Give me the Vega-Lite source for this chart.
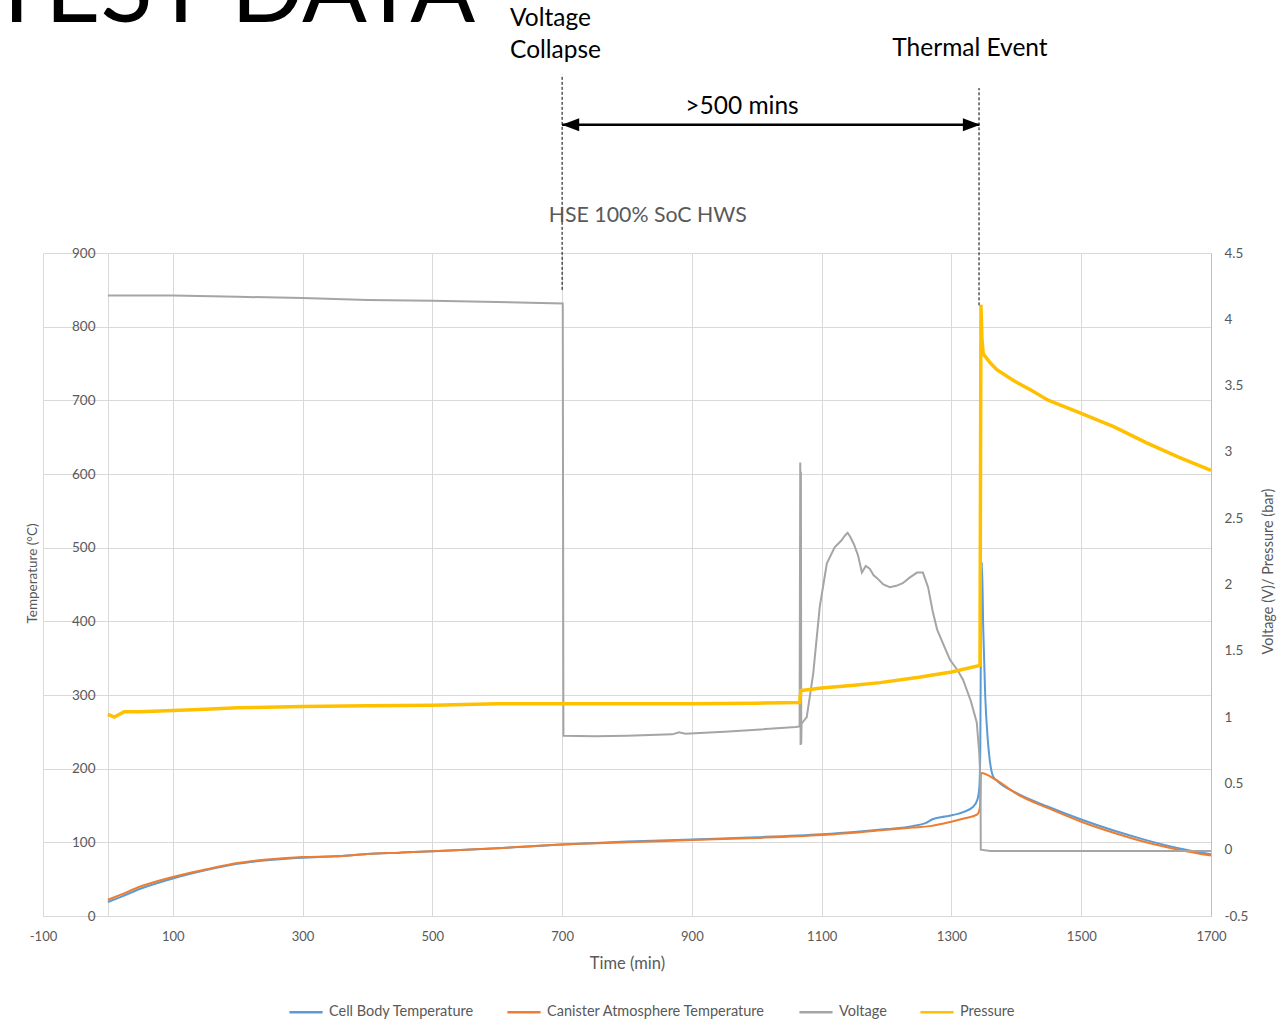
{
  "$schema": "https://vega.github.io/schema/vega-lite/v6.json",
  "width": 1168,
  "height": 663,
  "autosize": "none",
  "padding": {"left": 43, "top": 253, "right": 77, "bottom": 104},
  "background": "white",
  "config": {
    "font": "Lato",
    "view": {"stroke": null},
    "legend": {
      "orient": "none", "legendX": 245, "legendY": 741, "direction": "horizontal",
      "symbolType": "stroke", "symbolSize": 1100, "symbolStrokeWidth": 2.5,
      "labelFontSize": 14.5, "labelColor": "#595959", "labelFont": "Lato", "labelLimit": 0,
      "columnPadding": 28, "labelOffset": 5
    }
  },
  "datasets": {
    "temp": [
      {"t":0,"v":19,"s":"Cell Body Temperature"},{"t":20,"v":26,"s":"Cell Body Temperature"},{"t":50,"v":37,"s":"Cell Body Temperature"},{"t":100,"v":51,"s":"Cell Body Temperature"},{"t":150,"v":62,"s":"Cell Body Temperature"},{"t":200,"v":71,"s":"Cell Body Temperature"},{"t":250,"v":76,"s":"Cell Body Temperature"},{"t":300,"v":79,"s":"Cell Body Temperature"},{"t":350,"v":81,"s":"Cell Body Temperature"},{"t":400,"v":84,"s":"Cell Body Temperature"},{"t":450,"v":86,"s":"Cell Body Temperature"},{"t":500,"v":88,"s":"Cell Body Temperature"},{"t":600,"v":92,"s":"Cell Body Temperature"},{"t":700,"v":97,"s":"Cell Body Temperature"},{"t":800,"v":101,"s":"Cell Body Temperature"},{"t":900,"v":104,"s":"Cell Body Temperature"},{"t":1000,"v":107,"s":"Cell Body Temperature"},{"t":1100,"v":111,"s":"Cell Body Temperature"},{"t":1150,"v":114,"s":"Cell Body Temperature"},{"t":1200,"v":118,"s":"Cell Body Temperature"},{"t":1240,"v":122,"s":"Cell Body Temperature"},{"t":1260,"v":126,"s":"Cell Body Temperature"},{"t":1270,"v":131,"s":"Cell Body Temperature"},{"t":1290,"v":135,"s":"Cell Body Temperature"},{"t":1318,"v":141,"s":"Cell Body Temperature"},{"t":1333,"v":148,"s":"Cell Body Temperature"},{"t":1340,"v":158,"s":"Cell Body Temperature"},{"t":1343,"v":175,"s":"Cell Body Temperature"},{"t":1344.5,"v":230,"s":"Cell Body Temperature"},{"t":1345.5,"v":400,"s":"Cell Body Temperature"},{"t":1347,"v":480,"s":"Cell Body Temperature"},{"t":1349,"v":390,"s":"Cell Body Temperature"},{"t":1352,"v":300,"s":"Cell Body Temperature"},{"t":1356,"v":239,"s":"Cell Body Temperature"},{"t":1359,"v":212,"s":"Cell Body Temperature"},{"t":1364,"v":190,"s":"Cell Body Temperature"},{"t":1370,"v":184,"s":"Cell Body Temperature"},{"t":1400,"v":167,"s":"Cell Body Temperature"},{"t":1450,"v":148,"s":"Cell Body Temperature"},{"t":1500,"v":131,"s":"Cell Body Temperature"},{"t":1550,"v":116,"s":"Cell Body Temperature"},{"t":1600,"v":103,"s":"Cell Body Temperature"},{"t":1650,"v":92,"s":"Cell Body Temperature"},{"t":1700,"v":84,"s":"Cell Body Temperature"},
      {"t":0,"v":22,"s":"Canister Atmosphere Temperature"},{"t":20,"v":29,"s":"Canister Atmosphere Temperature"},{"t":50,"v":40,"s":"Canister Atmosphere Temperature"},{"t":100,"v":53,"s":"Canister Atmosphere Temperature"},{"t":150,"v":63,"s":"Canister Atmosphere Temperature"},{"t":200,"v":72,"s":"Canister Atmosphere Temperature"},{"t":250,"v":77,"s":"Canister Atmosphere Temperature"},{"t":300,"v":80,"s":"Canister Atmosphere Temperature"},{"t":350,"v":81,"s":"Canister Atmosphere Temperature"},{"t":400,"v":84,"s":"Canister Atmosphere Temperature"},{"t":450,"v":86,"s":"Canister Atmosphere Temperature"},{"t":500,"v":88,"s":"Canister Atmosphere Temperature"},{"t":600,"v":92,"s":"Canister Atmosphere Temperature"},{"t":700,"v":97,"s":"Canister Atmosphere Temperature"},{"t":800,"v":100,"s":"Canister Atmosphere Temperature"},{"t":900,"v":103,"s":"Canister Atmosphere Temperature"},{"t":1000,"v":106,"s":"Canister Atmosphere Temperature"},{"t":1100,"v":110,"s":"Canister Atmosphere Temperature"},{"t":1150,"v":113,"s":"Canister Atmosphere Temperature"},{"t":1200,"v":117,"s":"Canister Atmosphere Temperature"},{"t":1240,"v":120,"s":"Canister Atmosphere Temperature"},{"t":1267,"v":122,"s":"Canister Atmosphere Temperature"},{"t":1300,"v":128,"s":"Canister Atmosphere Temperature"},{"t":1318,"v":132,"s":"Canister Atmosphere Temperature"},{"t":1340,"v":138,"s":"Canister Atmosphere Temperature"},{"t":1344,"v":148,"s":"Canister Atmosphere Temperature"},{"t":1345.5,"v":194,"s":"Canister Atmosphere Temperature"},{"t":1370,"v":184,"s":"Canister Atmosphere Temperature"},{"t":1400,"v":166,"s":"Canister Atmosphere Temperature"},{"t":1450,"v":146,"s":"Canister Atmosphere Temperature"},{"t":1500,"v":128,"s":"Canister Atmosphere Temperature"},{"t":1550,"v":113,"s":"Canister Atmosphere Temperature"},{"t":1600,"v":100,"s":"Canister Atmosphere Temperature"},{"t":1650,"v":90,"s":"Canister Atmosphere Temperature"},{"t":1700,"v":82,"s":"Canister Atmosphere Temperature"}
    ],
    "volt": [
      {"t":0,"v":4.18,"s":"Voltage"},{"t":100,"v":4.18,"s":"Voltage"},{"t":200,"v":4.17,"s":"Voltage"},{"t":300,"v":4.16,"s":"Voltage"},{"t":400,"v":4.145,"s":"Voltage"},{"t":500,"v":4.14,"s":"Voltage"},{"t":600,"v":4.13,"s":"Voltage"},{"t":701,"v":4.12,"s":"Voltage"},{"t":702,"v":0.86,"s":"Voltage"},{"t":750,"v":0.855,"s":"Voltage"},{"t":800,"v":0.86,"s":"Voltage"},{"t":870,"v":0.87,"s":"Voltage"},{"t":880,"v":0.885,"s":"Voltage"},{"t":890,"v":0.875,"s":"Voltage"},{"t":950,"v":0.89,"s":"Voltage"},{"t":1000,"v":0.905,"s":"Voltage"},{"t":1060,"v":0.925,"s":"Voltage"},{"t":1066,"v":0.93,"s":"Voltage"},{"t":1067,"v":2.92,"s":"Voltage"},{"t":1067.5,"v":0.79,"s":"Voltage"},{"t":1068,"v":2.85,"s":"Voltage"},{"t":1068.5,"v":0.8,"s":"Voltage"},{"t":1069,"v":0.95,"s":"Voltage"},{"t":1077,"v":1.0,"s":"Voltage"},{"t":1087,"v":1.33,"s":"Voltage"},{"t":1097,"v":1.83,"s":"Voltage"},{"t":1108,"v":2.16,"s":"Voltage"},{"t":1120,"v":2.28,"s":"Voltage"},{"t":1130,"v":2.33,"s":"Voltage"},{"t":1136,"v":2.37,"s":"Voltage"},{"t":1140,"v":2.39,"s":"Voltage"},{"t":1144,"v":2.36,"s":"Voltage"},{"t":1150,"v":2.3,"s":"Voltage"},{"t":1156,"v":2.22,"s":"Voltage"},{"t":1162,"v":2.09,"s":"Voltage"},{"t":1168,"v":2.14,"s":"Voltage"},{"t":1174,"v":2.12,"s":"Voltage"},{"t":1180,"v":2.07,"s":"Voltage"},{"t":1185,"v":2.05,"s":"Voltage"},{"t":1195,"v":2.0,"s":"Voltage"},{"t":1205,"v":1.98,"s":"Voltage"},{"t":1215,"v":1.99,"s":"Voltage"},{"t":1225,"v":2.01,"s":"Voltage"},{"t":1235,"v":2.05,"s":"Voltage"},{"t":1247,"v":2.09,"s":"Voltage"},{"t":1256,"v":2.09,"s":"Voltage"},{"t":1264,"v":1.98,"s":"Voltage"},{"t":1271,"v":1.8,"s":"Voltage"},{"t":1278,"v":1.66,"s":"Voltage"},{"t":1290,"v":1.52,"s":"Voltage"},{"t":1298,"v":1.43,"s":"Voltage"},{"t":1310,"v":1.35,"s":"Voltage"},{"t":1318,"v":1.28,"s":"Voltage"},{"t":1330,"v":1.12,"s":"Voltage"},{"t":1339,"v":0.96,"s":"Voltage"},{"t":1343,"v":0.72,"s":"Voltage"},{"t":1344.8,"v":0.5,"s":"Voltage"},{"t":1345.2,"v":0.0,"s":"Voltage"},{"t":1360,"v":-0.01,"s":"Voltage"},{"t":1700,"v":-0.01,"s":"Voltage"}
    ],
    "pres": [
      {"t":0,"v":1.02,"s":"Pressure"},{"t":10,"v":1.0,"s":"Pressure"},{"t":25,"v":1.04,"s":"Pressure"},{"t":50,"v":1.04,"s":"Pressure"},{"t":100,"v":1.05,"s":"Pressure"},{"t":150,"v":1.06,"s":"Pressure"},{"t":200,"v":1.07,"s":"Pressure"},{"t":300,"v":1.08,"s":"Pressure"},{"t":400,"v":1.085,"s":"Pressure"},{"t":500,"v":1.09,"s":"Pressure"},{"t":600,"v":1.1,"s":"Pressure"},{"t":700,"v":1.1,"s":"Pressure"},{"t":800,"v":1.1,"s":"Pressure"},{"t":900,"v":1.1,"s":"Pressure"},{"t":1000,"v":1.105,"s":"Pressure"},{"t":1066,"v":1.11,"s":"Pressure"},{"t":1068,"v":1.2,"s":"Pressure"},{"t":1100,"v":1.22,"s":"Pressure"},{"t":1150,"v":1.24,"s":"Pressure"},{"t":1190,"v":1.26,"s":"Pressure"},{"t":1250,"v":1.3,"s":"Pressure"},{"t":1300,"v":1.34,"s":"Pressure"},{"t":1344,"v":1.39,"s":"Pressure"},{"t":1345.5,"v":4.11,"s":"Pressure"},{"t":1347,"v":3.85,"s":"Pressure"},{"t":1349,"v":3.74,"s":"Pressure"},{"t":1360,"v":3.67,"s":"Pressure"},{"t":1370,"v":3.62,"s":"Pressure"},{"t":1395,"v":3.54,"s":"Pressure"},{"t":1421,"v":3.47,"s":"Pressure"},{"t":1449,"v":3.39,"s":"Pressure"},{"t":1500,"v":3.29,"s":"Pressure"},{"t":1550,"v":3.19,"s":"Pressure"},{"t":1600,"v":3.07,"s":"Pressure"},{"t":1650,"v":2.96,"s":"Pressure"},{"t":1700,"v":2.86,"s":"Pressure"}
    ],
    "vlines": [
      {"t":700,"y1":850,"y2":1142},
      {"t":1342.5,"y1":829,"y2":1124}
    ],
    "arrow": [{"t1":700,"t2":1343,"y":1074}],
    "headL": [{"t":713,"y":1074}],
    "headR": [{"t":1331,"y":1074}],
    "labelsL": [
      {"label":"Voltage","t":619.7,"y":1217.6},
      {"label":"Collapse","t":619.7,"y":1174.2}
    ],
    "labelsC": [
      {"label":"Thermal Event","t":1328.6,"y":1176.9},
      {"label":">500 mins","t":977.2,"y":1098.2}
    ],
    "chartTitle": [{"label":"HSE 100% SoC HWS","t":832,"y":950}],
    "big": [{"label":"TEST DATA","t":191,"y":1213.6}]
  },
  "layer": [
    {
      "data": {"name": "temp"},
      "mark": {"type": "line", "strokeWidth": 2, "interpolate": "monotone"},
      "encoding": {
        "x": {
          "field": "t", "type": "quantitative",
          "scale": {"domain": [-100, 1700], "nice": false, "zero": false},
          "axis": {
            "values": [-100, 100, 300, 500, 700, 900, 1100, 1300, 1500, 1700],
            "labelExpr": "toString(datum.value)", "labelFlush": false,
            "grid": true, "gridColor": "#D9D9D9", "domainColor": "#D9D9D9", "ticks": false,
            "labelPadding": 14, "labelColor": "#595959", "labelFontSize": 13, "labelFont": "Lato",
            "title": "Time (min)", "titleFontSize": 16.5, "titleColor": "#595959", "titleFontWeight": "normal",
            "titleFont": "Lato", "titlePadding": 12
          }
        },
        "y": {
          "field": "v", "type": "quantitative",
          "scale": {"domain": [0, 900], "nice": false, "zero": false},
          "axis": {
            "orient": "left", "offset": -65,
            "values": [0, 100, 200, 300, 400, 500, 600, 700, 800, 900],
            "labelExpr": "toString(datum.value)", "labelFlush": false,
            "grid": true, "gridColor": "#D9D9D9", "domainColor": "#D9D9D9", "ticks": false,
            "labelPadding": 13, "labelColor": "#595959", "labelFontSize": 13.5, "labelFont": "Lato",
            "title": "Temperature (°C)", "titleFontSize": 13.5, "titleColor": "#595959", "titleFontWeight": "normal",
            "titleFont": "Lato", "titlePadding": 32, "titleY": 320
          }
        },
        "color": {
          "field": "s", "type": "nominal",
          "scale": {
            "domain": ["Cell Body Temperature", "Canister Atmosphere Temperature", "Voltage", "Pressure"],
            "range": ["#5B9BD5", "#ED7D31", "#A5A5A5", "#FFC000"]
          },
          "legend": {"title": null}
        }
      }
    },
    {
      "data": {"name": "volt"},
      "mark": {"type": "line", "strokeWidth": 2},
      "encoding": {
        "x": {"field": "t", "type": "quantitative", "scale": {"domain": [-100, 1700], "nice": false, "zero": false}},
        "y": {
          "field": "v", "type": "quantitative",
          "scale": {"domain": [-0.5, 4.5], "nice": false, "zero": false},
          "axis": {
            "orient": "right",
            "values": [-0.5, 0, 0.5, 1, 1.5, 2, 2.5, 3, 3.5, 4, 4.5],
            "labelExpr": "toString(datum.value)", "labelFlush": false,
            "grid": false, "domainColor": "#BFBFBF", "ticks": false,
            "labelPadding": 13, "labelColor": "#595959", "labelFontSize": 13.5, "labelFont": "Lato",
            "title": "Voltage (V)/ Pressure (bar)", "titleFontSize": 14.5, "titleColor": "#595959", "titleFontWeight": "normal",
            "titleFont": "Lato", "titleAngle": -90, "titlePadding": 28, "titleY": 318
          }
        },
        "color": {"field": "s", "type": "nominal"}
      }
    },
    {
      "data": {"name": "pres"},
      "mark": {"type": "line", "strokeWidth": 3.5},
      "encoding": {
        "x": {"field": "t", "type": "quantitative", "scale": {"domain": [-100, 1700], "nice": false, "zero": false}},
        "y": {"field": "v", "type": "quantitative", "scale": {"domain": [-0.5, 4.5], "nice": false, "zero": false}, "axis": null},
        "color": {"field": "s", "type": "nominal"}
      }
    },
    {
      "data": {"name": "vlines"},
      "mark": {"type": "rule", "color": "#000000", "strokeWidth": 1, "strokeDash": [3, 2]},
      "encoding": {
        "x": {"field": "t", "type": "quantitative", "scale": {"domain": [-100, 1700], "nice": false, "zero": false}},
        "y": {"field": "y1", "type": "quantitative", "scale": {"domain": [0, 900], "nice": false, "zero": false}, "axis": null},
        "y2": {"field": "y2"}
      }
    },
    {
      "data": {"name": "arrow"},
      "mark": {"type": "rule", "color": "#000000", "strokeWidth": 2.5},
      "encoding": {
        "x": {"field": "t1", "type": "quantitative", "scale": {"domain": [-100, 1700], "nice": false, "zero": false}},
        "x2": {"field": "t2"},
        "y": {"field": "y", "type": "quantitative", "scale": {"domain": [0, 900], "nice": false, "zero": false}, "axis": null}
      }
    },
    {
      "data": {"name": "headL"},
      "mark": {"type": "point", "filled": true, "color": "#000000", "opacity": 1, "size": 300, "shape": "M-1,0L1,-0.75L1,0.75Z"},
      "encoding": {
        "x": {"field": "t", "type": "quantitative", "scale": {"domain": [-100, 1700], "nice": false, "zero": false}},
        "y": {"field": "y", "type": "quantitative", "scale": {"domain": [0, 900], "nice": false, "zero": false}, "axis": null}
      }
    },
    {
      "data": {"name": "headR"},
      "mark": {"type": "point", "filled": true, "color": "#000000", "opacity": 1, "size": 300, "shape": "M1,0L-1,-0.75L-1,0.75Z"},
      "encoding": {
        "x": {"field": "t", "type": "quantitative", "scale": {"domain": [-100, 1700], "nice": false, "zero": false}},
        "y": {"field": "y", "type": "quantitative", "scale": {"domain": [0, 900], "nice": false, "zero": false}, "axis": null}
      }
    },
    {
      "data": {"name": "labelsL"},
      "mark": {"type": "text", "fontSize": 24.5, "font": "Lato", "color": "#000000", "baseline": "middle", "align": "left"},
      "encoding": {
        "x": {"field": "t", "type": "quantitative", "scale": {"domain": [-100, 1700], "nice": false, "zero": false}},
        "y": {"field": "y", "type": "quantitative", "scale": {"domain": [0, 900], "nice": false, "zero": false}, "axis": null},
        "text": {"field": "label"}
      }
    },
    {
      "data": {"name": "labelsC"},
      "mark": {"type": "text", "fontSize": 24.5, "font": "Lato", "color": "#000000", "baseline": "middle", "align": "center"},
      "encoding": {
        "x": {"field": "t", "type": "quantitative", "scale": {"domain": [-100, 1700], "nice": false, "zero": false}},
        "y": {"field": "y", "type": "quantitative", "scale": {"domain": [0, 900], "nice": false, "zero": false}, "axis": null},
        "text": {"field": "label"}
      }
    },
    {
      "data": {"name": "chartTitle"},
      "mark": {"type": "text", "fontSize": 21.3, "font": "Lato", "color": "#595959", "baseline": "middle", "align": "center"},
      "encoding": {
        "x": {"field": "t", "type": "quantitative", "scale": {"domain": [-100, 1700], "nice": false, "zero": false}},
        "y": {"field": "y", "type": "quantitative", "scale": {"domain": [0, 900], "nice": false, "zero": false}, "axis": null},
        "text": {"field": "label"}
      }
    },
    {
      "data": {"name": "big"},
      "mark": {"type": "text", "fontSize": 96, "font": "Lato", "color": "#000000", "baseline": "alphabetic", "align": "center"},
      "encoding": {
        "x": {"field": "t", "type": "quantitative", "scale": {"domain": [-100, 1700], "nice": false, "zero": false}},
        "y": {"field": "y", "type": "quantitative", "scale": {"domain": [0, 900], "nice": false, "zero": false}, "axis": null},
        "text": {"field": "label"}
      }
    }
  ],
  "resolve": {"scale": {"y": "independent"}}
}
